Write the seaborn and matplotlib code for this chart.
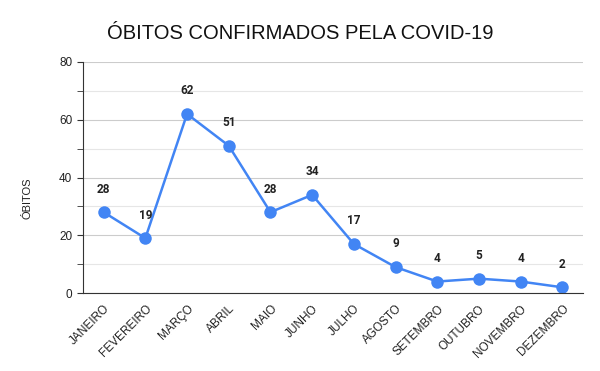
import matplotlib
matplotlib.use('Agg')
import matplotlib.pyplot as plt
import seaborn as sns
import pandas as pd
from matplotlib.ticker import MultipleLocator

meses = ["JANEIRO", "FEVEREIRO", "MARÇO", "ABRIL", "MAIO", "JUNHO",
         "JULHO", "AGOSTO", "SETEMBRO", "OUTUBRO", "NOVEMBRO", "DEZEMBRO"]
obitos = [28, 19, 62, 51, 28, 34, 17, 9, 4, 5, 4, 2]

df = pd.DataFrame({"mes": meses, "obitos": obitos})

sns.set_style("white")
plt.rcParams['font.family'] = ['Liberation Sans', 'DejaVu Sans']

fig = plt.figure(figsize=(6, 3.71), dpi=100)
ax = fig.add_axes([0.138, 0.21, 0.834, 0.623])

cor = "#4285F4"
sns.lineplot(data=df, x="mes", y="obitos", sort=False, color=cor, linewidth=1.8,
             marker="o", markersize=9, markeredgewidth=0, ax=ax)

# rótulos dos pontos
for i, v in enumerate(obitos):
    ax.annotate(str(v), (i, v), xytext=(0, 12), textcoords="offset points",
                ha="center", va="bottom", fontsize=8.5, fontweight="bold",
                family=["Roboto", "DejaVu Sans"], color="#222222")

ax.set_xlim(-0.5, len(meses) - 0.5)
ax.set_ylim(0, 80)
ax.yaxis.set_major_locator(MultipleLocator(20))
ax.yaxis.set_minor_locator(MultipleLocator(10))
ax.grid(axis='y', which='major', color="#cccccc", linewidth=0.8)
ax.grid(axis='y', which='minor', color="#e6e6e6", linewidth=0.8)
ax.set_axisbelow(True)

for s in ["top", "right"]:
    ax.spines[s].set_visible(False)
ax.spines["left"].set_color("#333333")
ax.spines["bottom"].set_color("#333333")
ax.tick_params(axis='y', which='both', left=True, length=4, color="#333333",
               labelsize=8.5, labelcolor="#222222")
ax.tick_params(axis='x', bottom=False, labelsize=8.5, labelcolor="#222222")
plt.setp(ax.get_xticklabels(), rotation=45, ha="right", rotation_mode="anchor")

ax.set_xlabel("")
ax.set_ylabel("ÓBITOS", fontsize=8, color="#222222")
ax.yaxis.set_label_coords(-0.1, 0.41)
fig.suptitle("ÓBITOS CONFIRMADOS PELA COVID-19", x=0.5, y=0.935, fontsize=14.5,
             color="#111111")

plt.savefig("out.png", dpi=100)
plt.close()
